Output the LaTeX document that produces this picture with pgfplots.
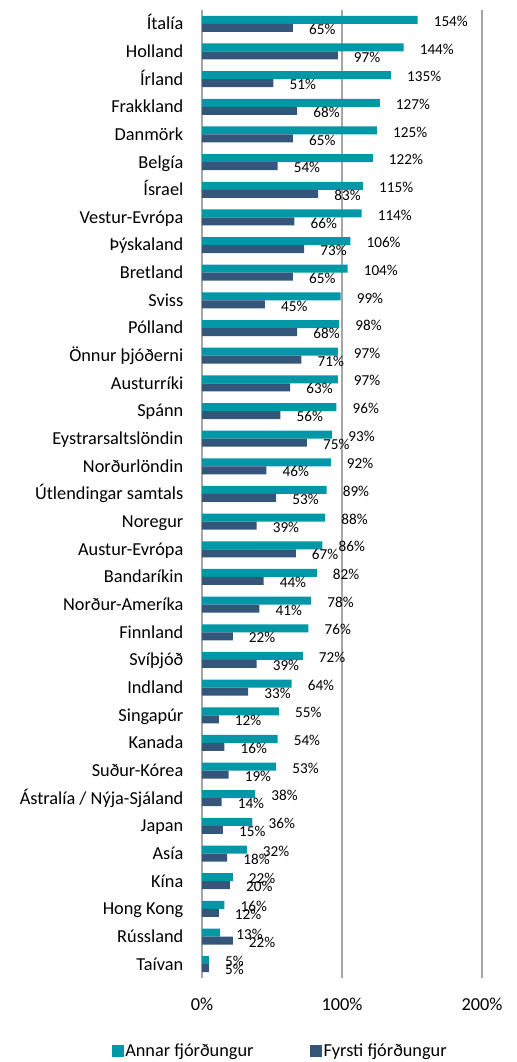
\documentclass[border=0pt]{standalone}
\usepackage{pgfplots}
\pgfplotsset{compat=1.18}
\usepackage{fontspec}
\setmainfont{Carlito}
\definecolor{teal1}{RGB}{0,151,167}
\definecolor{navy1}{RGB}{52,86,122}
\definecolor{grid1}{RGB}{166,166,166}
\begin{document}
\begin{tikzpicture}
\path[use as bounding box] (-202bp,-84bp) rectangle (315bp,978bp);
\begin{axis}[
 at={(0,0)}, anchor=south west,
 scale only axis, width=280bp, height=968bp,
 xmin=0, xmax=200, ymin=-0.5, ymax=34.5,
 xbar, bar width=8bp,
 axis line style={draw=none},
 xtick={0,100,200}, xticklabels={0\%,100\%,200\%},
 xmajorgrids, major grid style={grid1, line width=1.3bp},
 major tick length=0pt,
 ytick={0,...,34},
 yticklabels={Taívan, Rússland, Hong Kong, Kína, Asía, Japan, Ástralía / Nýja-Sjáland, Suður-Kórea, Kanada, Singapúr, Indland, Svíþjóð, Finnland, Norður-Ameríka, Bandaríkin, Austur-Evrópa, Noregur, Útlendingar samtals, Norðurlöndin, Eystrarsaltslöndin, Spánn, Austurríki, Önnur þjóðerni, Pólland, Sviss, Bretland, Þýskaland, Vestur-Evrópa, Ísrael, Belgía, Danmörk, Frakkland, Írland, Holland, Ítalía},
 yticklabel style={font=\fontsize{18.3bp}{22bp}\selectfont, anchor=base east, inner sep=0pt, xshift=-18.5bp, yshift=-5.9bp},
 xticklabel style={font=\fontsize{18.3bp}{22bp}\selectfont, anchor=base, inner sep=0pt, yshift=-32bp},
 /pgf/number format/assume math mode=true,
 point meta=x,
 nodes near coords={\pgfmathprintnumber{\pgfplotspointmeta}\%},
 every node near coord/.append style={font=\fontsize{15.2bp}{18bp}\selectfont, text=black, anchor=west, inner sep=0pt, xshift=16bp, yshift=-1.5bp},
 legend columns=2,
 legend image code/.code={\fill[#1] (0bp,-6bp) rectangle (12bp,6bp);},
 legend style={draw=none, fill=none, at={(axis description cs:0.2786,-0.0754)}, anchor=center, inner sep=0pt,
   font=\fontsize{18.3bp}{22bp}\selectfont, nodes={inner sep=1.5bp},
   /tikz/every even column/.append style={column sep=55bp}},
]
\addplot[fill=teal1, draw=none, bar shift=4bp] coordinates {
(154,34) (144,33) (135,32) (127,31) (125,30) (122,29) (115,28) (114,27) (106,26) (104,25)
(99,24) (98,23) (97,22) (97,21) (96,20) (93,19) (92,18) (89,17) (88,16) (86,15)
(82,14) (78,13) (76,12) (72,11) (64,10) (55,9) (54,8) (53,7) (38,6) (36,5)
(32,4) (22,3) (16,2) (13,1) (5,0)};
\addlegendentry{Annar fjórðungur}
\addplot[fill=navy1, draw=none, bar shift=-4bp] coordinates {
(65,34) (97,33) (51,32) (68,31) (65,30) (54,29) (83,28) (66,27) (73,26) (65,25)
(45,24) (68,23) (71,22) (63,21) (56,20) (75,19) (46,18) (53,17) (39,16) (67,15)
(44,14) (41,13) (22,12) (39,11) (33,10) (12,9) (16,8) (19,7) (14,6) (15,5)
(18,4) (20,3) (12,2) (22,1) (5,0)};
\addlegendentry{Fyrsti fjórðungur}
\end{axis}
\end{tikzpicture}
\end{document}
